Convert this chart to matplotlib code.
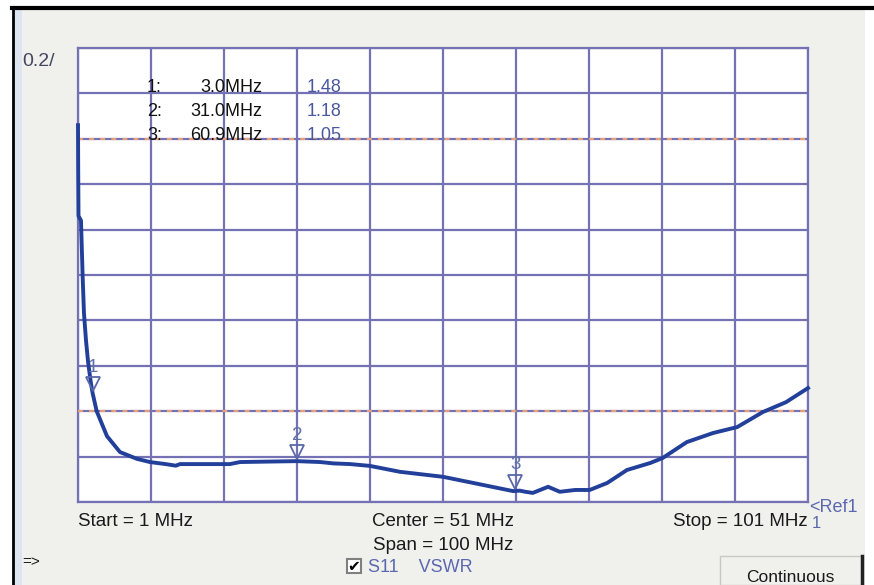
import matplotlib
matplotlib.use("Agg")
import matplotlib.pyplot as plt
from matplotlib.patches import Rectangle
from matplotlib.lines import Line2D
from matplotlib.transforms import ScaledTranslation

# ---- data ----
freq_mhz = [1.0, 1.03, 1.07, 1.41, 1.64, 1.82, 2.10, 2.37, 2.74, 3.0, 3.56, 4.97,
            6.75, 9.08, 10.86, 13.0, 14.4, 14.97, 17.0, 21.8, 23.2, 27.0, 31.0,
            34.2, 36.0, 38.3, 41.0, 45.1, 51.0, 56.5, 60.6, 61.5, 62.3, 63.3,
            64.3, 65.4, 67.0, 69.1, 71.1, 73.5, 76.2, 79.4, 81.1, 84.4, 88.0,
            91.3, 94.8, 98.0, 101.0]
vswr = [2.66, 2.45, 2.26, 2.24, 1.99, 1.83, 1.71, 1.62, 1.53, 1.48, 1.40, 1.29,
        1.22, 1.19, 1.176, 1.167, 1.160, 1.167, 1.167, 1.167, 1.176, 1.178, 1.18,
        1.176, 1.170, 1.167, 1.159, 1.133, 1.111, 1.075, 1.048, 1.05, 1.045, 1.040,
        1.053, 1.067, 1.045, 1.053, 1.053, 1.084, 1.141, 1.172, 1.194, 1.264, 1.304,
        1.330, 1.396, 1.44, 1.502]
marker_ids = ["1", "2", "3"]
marker_freq = [3.0, 31.0, 60.9]
marker_vswr = [1.48, 1.18, 1.05]
marker_freq_labels = ["3.0MHz", "31.0MHz", "60.9MHz"]
limit_lines = [2.6, 1.4]
start_mhz, stop_mhz = 1, 101
ref_value, per_div = 1.0, 0.2

plt.rcParams['font.family'] = ['Liberation Sans', 'DejaVu Sans']

W, H = 874, 585
fig = plt.figure(figsize=(W / 100, H / 100), dpi=100, facecolor='white')

def fx(px):
    return px / W

def fy(py):
    return 1 - py / H

# window panel
fig.add_artist(Rectangle((fx(13), 0), fx(852), fy(9), transform=fig.transFigure,
                         facecolor='#f0f0ec', edgecolor='none', zorder=0))
fig.add_artist(Rectangle((fx(14), 0), fx(8), fy(9), transform=fig.transFigure,
                         facecolor='#dde6f0', edgecolor='none', zorder=0))
fig.add_artist(Line2D([fx(12), 1], [fy(8), fy(8)], transform=fig.transFigure,
                      color='black', lw=3, zorder=1))
fig.add_artist(Line2D([fx(12.5), fx(12.5)], [0, fy(8)], transform=fig.transFigure,
                      color='black', lw=2, zorder=1))

ax = fig.add_axes([fx(78), fy(502), fx(808) - fx(78), fy(48) - fy(502)])
ax.set_facecolor('white')
ax.set_xlim(start_mhz, stop_mhz)
ax.set_ylim(ref_value, ref_value + 10 * per_div)
grid_c = '#7472b4'
xt = [start_mhz + i * (stop_mhz - start_mhz) / 10 for i in range(11)]
yt = [ref_value + i * per_div for i in range(11)]
ax.set_xticks(xt)
ax.set_yticks(yt)
ax.tick_params(length=0, labelbottom=False, labelleft=False)
ax.grid(True, color=grid_c, lw=1.6)
for s in ax.spines.values():
    s.set_color(grid_c)
    s.set_linewidth(1.6)

for lv in limit_lines:
    ax.axhline(lv, color='#e6a07a', lw=1.6, ls=(0, (2.2, 2.8)), zorder=3)

ax.plot(freq_mhz, vswr, color='#22409a', lw=2.8, zorder=4, clip_on=False,
        solid_joinstyle='round')

mk_c = '#5a68a8'
shift = ScaledTranslation(0, 9 / 100, fig.dpi_scale_trans)
for mid, f, v in zip(marker_ids, marker_freq, marker_vswr):
    ax.plot([f], [v], marker='v', ms=10, mfc='none', mec=mk_c, mew=1.3, ls='none',
            zorder=5, transform=ax.transData + shift)
    ax.annotate(mid, xy=(f, v), xytext=(0, 26), textcoords='offset pixels',
                ha='center', va='center', fontsize=13.5, color='#6070a8', zorder=5)

# marker table
row_y = [88, 111, 135]
for mid, lab, val, yy in zip(marker_ids, marker_freq_labels, marker_vswr, row_y):
    fig.text(fx(147), fy(yy), mid + ":", fontsize=13, color='#111111', va='center', ha='left', zorder=6)
    fig.text(fx(262), fy(yy), lab, fontsize=13, color='#111111', va='center', ha='right', zorder=6)
    fig.text(fx(307), fy(yy), f"{val:.2f}", fontsize=13, color='#4a58a0', va='center', ha='left', zorder=6)

txt_c = '#1a1a1a'
fig.text(fx(22), fy(61), "0.2/", fontsize=14, color='#454560', va='center', ha='left')
fig.text(fx(78), fy(521), "Start = 1 MHz", fontsize=13.5, color=txt_c, va='center', ha='left')
fig.text(fx(443), fy(521), "Center = 51 MHz", fontsize=13.5, color=txt_c, va='center', ha='center')
fig.text(fx(443), fy(546), "Span = 100 MHz", fontsize=13.5, color=txt_c, va='center', ha='center')
fig.text(fx(808), fy(521), "Stop = 101 MHz", fontsize=13.5, color=txt_c, va='center', ha='right')
fig.text(fx(809), fy(507), "<Ref1", fontsize=13, color='#5a68b0', va='center', ha='left')
fig.text(fx(812), fy(524), "1", fontsize=12, color='#5a68b0', va='center', ha='left')
fig.text(fx(22), fy(562), "=>", fontsize=11, color=txt_c, va='center', ha='left')

# checkbox
fig.add_artist(Rectangle((fx(347), fy(573)), fx(14), fy(559) - fy(573), transform=fig.transFigure,
                         facecolor='white', edgecolor='#808080', lw=1.5, zorder=2))
fig.text(fx(354), fy(566), "\u2714", fontsize=11, color='black', va='center', ha='center',
         family=['DejaVu Sans'])
fig.text(fx(368), fy(567), "S11    VSWR", fontsize=13, color='#5a68b0', va='center', ha='left')

# Continuous button
fig.add_artist(Rectangle((fx(720), 0), fx(142), fy(556), transform=fig.transFigure,
                         facecolor='#f0f0ec', edgecolor='#c8c8c8', lw=1, zorder=2))
fig.add_artist(Line2D([fx(862), fx(862)], [0, fy(556)], transform=fig.transFigure,
                      color='#222222', lw=2.5, zorder=3))
fig.text(fx(790), fy(577), "Continuous", fontsize=12.5, color=txt_c, va='center', ha='center')

fig.savefig("out.png", dpi=100, facecolor=fig.get_facecolor())
